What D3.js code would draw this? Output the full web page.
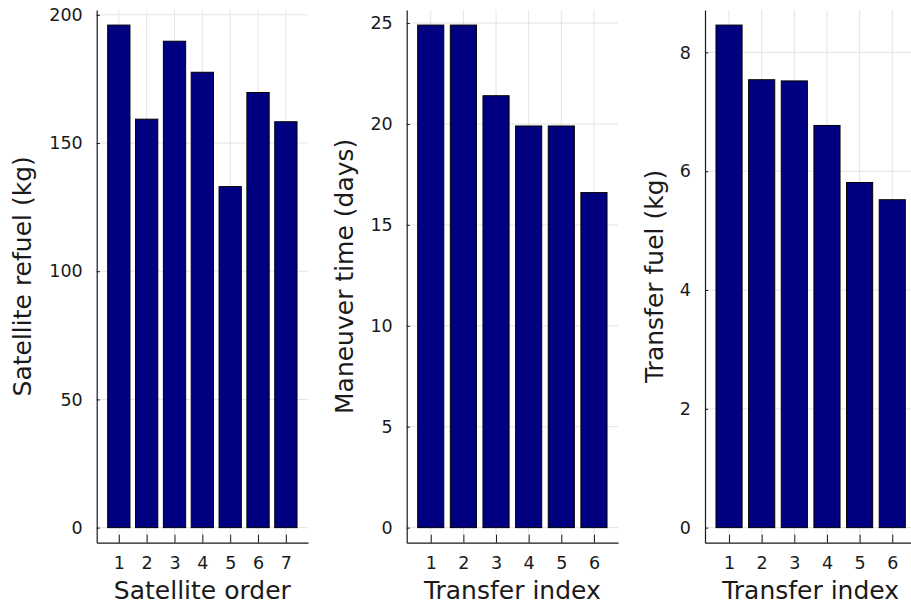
<!DOCTYPE html>
<html>
<head>
<meta charset="utf-8">
<script src="https://cdn.jsdelivr.net/npm/d3@7"></script>
<style>
  html, body { margin: 0; padding: 0; background: #fff; }
  svg { display: block; }
  text { font-family: "DejaVu Sans", sans-serif; fill: #1a1a1a; }
</style>
</head>
<body>
<svg id="chart" width="911" height="606"></svg>
<script>
// Satellite refuelling results, one bar panel per quantity
const satelliteOrder = [1, 2, 3, 4, 5, 6, 7];
const refuelKg = [196, 159.3, 189.7, 177.6, 133, 169.7, 158.3];
const refuelTicks = [0, 50, 100, 150, 200];

const transferIndex = [1, 2, 3, 4, 5, 6];
const maneuverDays = [24.9, 24.9, 21.4, 19.9, 19.9, 16.6];
const maneuverTicks = [0, 5, 10, 15, 20, 25];

const transferFuelKg = [8.46, 7.54, 7.52, 6.77, 5.81, 5.52];
const fuelTicks = [0, 2, 4, 6, 8];

const panels = [
  { x: satelliteOrder, y: refuelKg, yTicks: refuelTicks,
    xLabel: "Satellite order", yLabel: "Satellite refuel (kg)",
    left: 96.7, labelX: 22 },
  { x: transferIndex, y: maneuverDays, yTicks: maneuverTicks,
    xLabel: "Transfer index", yLabel: "Maneuver time (days)",
    left: 406.7, labelX: 344 },
  { x: transferIndex, y: transferFuelKg, yTicks: fuelTicks,
    xLabel: "Transfer index", yLabel: "Transfer fuel (kg)",
    left: 705, labelX: 654 }
];

const svg = d3.select("#chart");
const plotW = 211.3, plotTop = 10, plotBottom = 542.7;
const barWidth = 0.8;
const tickFont = 17.5, guideFont = 25;
const gridColor = "#e4e4e4", axisColor = "#1a1a1a";

panels.forEach(p => {
  const g = svg.append("g");
  const xMin = d3.min(p.x) - barWidth / 2, xMax = d3.max(p.x) + barWidth / 2;
  const xPad = (xMax - xMin) * 0.058;
  const x = d3.scaleLinear()
    .domain([xMin - xPad, xMax + xPad])
    .range([p.left, p.left + plotW]);
  const yMax = d3.max(p.y);
  const yPad = yMax * 0.03;
  const y = d3.scaleLinear()
    .domain([-yPad, yMax + yPad])
    .range([plotBottom, plotTop]);

  // grid
  g.append("g").selectAll("line").data(p.x).join("line")
    .attr("x1", d => x(d)).attr("x2", d => x(d))
    .attr("y1", plotTop).attr("y2", plotBottom)
    .attr("stroke", gridColor).attr("stroke-width", 1);
  g.append("g").selectAll("line").data(p.yTicks).join("line")
    .attr("x1", p.left).attr("x2", p.left + plotW)
    .attr("y1", d => y(d)).attr("y2", d => y(d))
    .attr("stroke", gridColor).attr("stroke-width", 1);

  // bars
  g.append("g").selectAll("rect").data(p.x.map((v, i) => ({ k: v, v: p.y[i] }))).join("rect")
    .attr("x", d => x(d.k - barWidth / 2))
    .attr("width", d => x(d.k + barWidth / 2) - x(d.k - barWidth / 2))
    .attr("y", d => y(d.v))
    .attr("height", d => y(0) - y(d.v))
    .attr("fill", "#000080")
    .attr("stroke", "#000")
    .attr("stroke-width", 1);

  // axes: only left and bottom spines with inward ticks
  const xAxis = d3.axisBottom(x).tickValues(p.x).tickFormat(d3.format("d"))
    .tickSizeInner(-8).tickSizeOuter(0).tickPadding(14);
  const gx = g.append("g").attr("transform", `translate(0,${plotBottom})`).call(xAxis);
  gx.select(".domain").attr("stroke", axisColor).attr("stroke-width", 1.2);
  gx.selectAll(".tick line").attr("stroke", axisColor).attr("stroke-width", 1);
  gx.selectAll(".tick text").attr("font-size", tickFont).attr("font-family", "DejaVu Sans")
    .attr("fill", "#1a1a1a");

  const yAxis = d3.axisLeft(y).tickValues(p.yTicks).tickFormat(d3.format("d"))
    .tickSizeInner(-3.2).tickSizeOuter(0).tickPadding(14);
  const gy = g.append("g").attr("transform", `translate(${p.left},0)`).call(yAxis);
  gy.select(".domain").attr("stroke", axisColor).attr("stroke-width", 1.2);
  gy.selectAll(".tick line").attr("stroke", axisColor).attr("stroke-width", 1);
  gy.selectAll(".tick text").attr("font-size", tickFont).attr("font-family", "DejaVu Sans")
    .attr("fill", "#1a1a1a");

  // guide labels
  g.append("text")
    .attr("x", p.left + plotW / 2).attr("y", 590)
    .attr("text-anchor", "middle").attr("dominant-baseline", "central")
    .attr("font-size", guideFont)
    .text(p.xLabel);
  g.append("text")
    .attr("transform", `translate(${p.labelX},${(plotTop + plotBottom) / 2}) rotate(-90)`)
    .attr("text-anchor", "middle").attr("dominant-baseline", "central")
    .attr("font-size", guideFont)
    .text(p.yLabel);
});
</script>
</body>
</html>
